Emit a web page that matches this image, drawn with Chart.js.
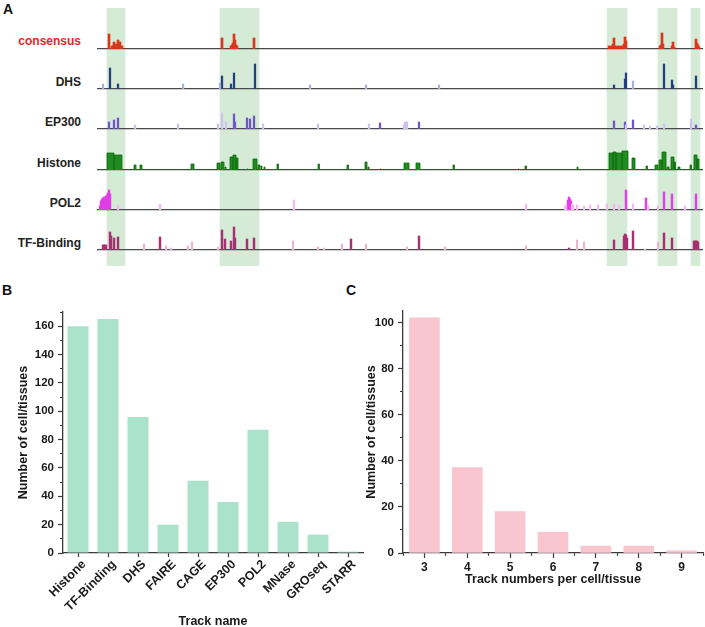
<!DOCTYPE html>
<html>
<head>
<meta charset="utf-8">
<script src="https://cdn.jsdelivr.net/npm/chart.js@4.4.1/dist/chart.umd.min.js"></script>
<style>
  html, body { margin: 0; padding: 0; background: #fff; overflow: hidden; }
  #page { position: relative; width: 705px; height: 627px; overflow: hidden;
          font-family: "Liberation Sans", Arial, sans-serif; }
  #page canvas { position: absolute; }
  .letter { position: absolute; font-weight: bold; font-size: 14px; color: #111; line-height: 14px; }
  .track { position: absolute; right: 624px; font-weight: bold; font-size: 12px; line-height: 14px;
           color: #222; white-space: nowrap; }
</style>
</head>
<body>
<div id="page">
  <div class="letter" style="left:3px;top:2px">A</div>
  <div class="letter" style="left:2px;top:283px">B</div>
  <div class="letter" style="left:346px;top:283px">C</div>

  <div class="track" style="top:34px;color:#e8262a">consensus</div>
  <div class="track" style="top:75px">DHS</div>
  <div class="track" style="top:115px">EP300</div>
  <div class="track" style="top:156px">Histone</div>
  <div class="track" style="top:196px">POL2</div>
  <div class="track" style="top:236px">TF-Binding</div>

  <canvas id="bands" width="606" height="258" style="left:97px;top:8px"></canvas>
  <canvas id="tConsensus" width="606" height="31" style="left:97px;top:19px"></canvas>
  <canvas id="tDHS" width="606" height="31" style="left:97px;top:59px"></canvas>
  <canvas id="tEP300" width="606" height="31" style="left:97px;top:99px"></canvas>
  <canvas id="tHistone" width="606" height="31" style="left:97px;top:140px"></canvas>
  <canvas id="tPOL2" width="606" height="31" style="left:97px;top:180px"></canvas>
  <canvas id="tTF" width="606" height="31" style="left:97px;top:220px"></canvas>

  <canvas id="chartB" width="365" height="335" style="left:0px;top:300px"></canvas>
  <canvas id="chartC" width="365" height="327" style="left:340px;top:300px"></canvas>
</div>
<script>
// ---- panel A: genome window (kb from window start) ----
const windowKb = 606;

const bandStart = [10, 123, 510, 561, 594];
const bandEnd   = [28, 162, 530, 580, 603];

const consensusPos = [12, 15, 16, 17, 18, 19, 20, 21, 22, 23, 24, 25, 125, 134, 135, 136, 137, 138, 139, 140, 157,
  512, 514, 516, 517, 518, 520, 522, 524, 526, 527, 528, 529, 563, 564, 565, 566, 575, 576, 577, 599, 600, 601, 602];
const consensusVal = [15, 3, 3, 7, 3, 5, 4, 9, 5, 7, 3, 3, 11, 3, 4, 6, 15, 9, 4, 3, 11,
  3, 3, 5, 11, 3, 3, 3, 3, 3, 5, 12, 8, 3, 4, 16, 5, 3, 7, 2, 10, 6, 4, 2];

const dhsPos = [13, 21, 125, 134, 137, 158, 517, 528, 529, 567, 575, 576, 599];
const dhsVal = [21, 5, 13, 5, 16, 25, 4, 10, 16, 25, 9, 4, 13];
const dhsFaintPos = [6, 86, 123, 213, 269, 342, 536];
const dhsFaintVal = [5, 5, 6, 4, 4, 4, 8];

const ep300Pos = [12, 17, 21, 137, 138, 150, 153, 157, 283, 322, 517, 528, 536, 599];
const ep300Val = [7, 9, 11, 15, 7, 11, 10, 13, 6, 7, 8, 7, 9, 4];
const ep300FaintPos = [38, 81, 121, 125, 129, 166, 221, 272, 307, 308, 310, 529, 547, 553, 560, 567, 594];
const ep300FaintVal = [4, 5, 5, 16, 7, 5, 5, 5, 4, 7, 7, 4, 4, 3, 3, 5, 10];

const histoneStart = [10, 17, 37, 43, 94, 120, 124, 128, 133, 136, 139, 150, 156, 161, 164, 167, 180, 221, 250,
  268, 271, 283, 307, 319, 356, 421, 428, 480, 512, 516, 519, 525, 535, 549, 558, 562, 565, 570, 574, 577,
  581, 593, 597, 600];
const histoneEnd = [17, 25, 39, 45, 97, 123, 127, 129, 136, 139, 141, 151, 160, 163, 165, 168, 181.5, 222.5, 251.5,
  270, 272, 284, 312, 323, 357.5, 422, 429.5, 481, 516, 519, 525, 531, 538, 550.5, 561, 565, 569, 572, 577, 578.5,
  583, 594.5, 600, 602];
const histoneVal = [17, 15, 5, 5, 6, 7, 8, 3, 13, 15, 12, 1, 11, 5, 4, 3, 6, 6, 5,
  8, 3, 1, 7, 7, 5, 1, 4, 3, 17, 18, 17, 19, 12, 4, 5, 10, 18, 3, 13, 8,
  3, 5, 15, 11];

const pol2Pos = [3, 4, 5, 6, 7, 8, 9, 10, 11, 12, 13, 471, 472, 473, 474, 529, 549, 567, 575, 599];
const pol2Val = [4, 9, 11, 12, 13, 11, 14, 15, 17, 20, 16, 10, 13, 11, 9, 20, 12, 18, 16, 16];
const pol2FaintPos = [21, 63, 197, 429, 468, 469, 475, 476, 480, 487, 493, 501, 510, 517, 522, 536, 551, 561, 588];
const pol2FaintVal = [5, 6, 10, 6, 4, 5, 6, 5, 5, 4, 5, 5, 6, 6, 5, 6, 5, 4, 4];

const tfPos = [6, 7, 8, 9, 13, 14, 17, 21, 63, 125, 128, 134, 137, 138, 150, 157, 254, 322, 472,
  517, 527, 528, 529, 530, 536, 567, 575, 597, 598, 599, 600, 601];
const tfVal = [5, 5, 5, 5, 18, 14, 12, 13, 13, 20, 11, 9, 23, 12, 11, 12, 11, 14, 2,
  10, 14, 16, 15, 12, 19, 17, 12, 9, 9, 9, 9, 8];
const tfFaintPos = [47, 69, 74, 91, 95, 121, 196, 221, 227, 245, 269, 310, 348, 429, 480, 487, 548, 561];
const tfFaintVal = [6, 4, 2, 4, 8, 3, 9, 3, 2, 6, 6, 3, 3, 4, 10, 8, 1, 8];

// ---- panel B ----
const trackNames = ['Histone', 'TF-Binding', 'DHS', 'FAIRE', 'CAGE', 'EP300', 'POL2', 'MNase', 'GROseq', 'STARR'];
const trackCells = [160, 165, 96, 20, 51, 36, 87, 22, 13, 1];

// ---- panel C ----
const tracksPerCell = [3, 4, 5, 6, 7, 8, 9];
const cellsWithN = [102, 37, 18, 9, 3, 3, 1];

Chart.defaults.font.family = '"Liberation Sans", Arial, sans-serif';
Chart.defaults.color = '#1a1a1a';

const axisColor = '#3a3a3a';
const boldFont = size => ({ size: size, weight: 'bold' });

function pts(pos, val) {
    return pos.map((x, i) => ({ x: x, y: val[i] }));
}

function spikes(pos, val, color, thick) {
    return {
        data: pts(pos, val),
        backgroundColor: color,
        barThickness: thick || 1.6,
        grouped: false
    };
}

function trackOptions() {
    return {
        responsive: false,
        animation: false,
        events: [],
        layout: { padding: { bottom: 1 } },
        plugins: { legend: { display: false }, tooltip: { enabled: false } },
        scales: {
            x: {
                type: 'linear', min: 0, max: windowKb, offset: false,
                grid: { display: false, drawTicks: false },
                ticks: { display: false },
                border: { display: true, color: '#4a4a4a', width: 1.3 }
            },
            y: { min: 0, max: 30, display: false }
        }
    };
}

function trackChart(id, datasets) {
    return new Chart(document.getElementById(id), {
        type: 'bar',
        data: { datasets: datasets },
        options: trackOptions()
    });
}

// green highlight bands behind the tracks
new Chart(document.getElementById('bands'), {
    type: 'bar',
    data: {
        labels: ['band'],
        datasets: [{
            data: bandStart.map((s, i) => ({ x: [s, bandEnd[i]], y: 'band' })),
            backgroundColor: '#d5ebd6',
            barPercentage: 1,
            categoryPercentage: 1
        }]
    },
    options: {
        indexAxis: 'y',
        responsive: false,
        animation: false,
        events: [],
        plugins: { legend: { display: false }, tooltip: { enabled: false } },
        scales: {
            x: { type: 'linear', min: 0, max: windowKb, display: false },
            y: { display: false }
        }
    }
});

trackChart('tConsensus', [spikes(consensusPos, consensusVal, '#d9381e', 2)]);
trackChart('tDHS', [
    spikes(dhsFaintPos, dhsFaintVal, '#a9b1dc'),
    spikes(dhsPos, dhsVal, '#243f80')
]);
trackChart('tEP300', [
    spikes(ep300FaintPos, ep300FaintVal, '#cdc2ee'),
    spikes(ep300Pos, ep300Val, '#7055c8')
]);
trackChart('tPOL2', [
    spikes(pol2FaintPos, pol2FaintVal, '#f3b8f1'),
    spikes(pol2Pos, pol2Val, '#e03ee6', 1.8)
]);
trackChart('tTF', [
    spikes(tfFaintPos, tfFaintVal, '#e9b6d1'),
    spikes(tfPos, tfVal, '#a63172', 1.8)
]);

// histone peaks are broad blocks: stepped area line
const histoneSteps = [{ x: 0, y: 0 }];
histoneStart.forEach((s, i) => {
    histoneSteps.push({ x: s, y: histoneVal[i] });
    histoneSteps.push({ x: histoneEnd[i], y: 0 });
});
histoneSteps.push({ x: windowKb, y: 0 });

new Chart(document.getElementById('tHistone'), {
    type: 'line',
    data: {
        datasets: [{
            data: histoneSteps,
            stepped: true,
            fill: 'origin',
            backgroundColor: '#1f8b20',
            borderColor: '#0f6a10',
            borderWidth: 0.8,
            pointRadius: 0
        }]
    },
    options: trackOptions()
});

// minor ticks drawn shorter using a dash on the tick line
function minorDashLeft(ctx) {
    return ctx.tick && ctx.tick.value % 20 !== 0 ? [0, 2, 10] : [];
}

// ---- B ----
new Chart(document.getElementById('chartB'), {
    type: 'bar',
    data: {
        labels: trackNames,
        datasets: [{
            data: trackCells,
            backgroundColor: '#aae2cb',
            barPercentage: 0.7,
            categoryPercentage: 1
        }]
    },
    options: {
        responsive: false,
        animation: false,
        events: [],
        layout: { padding: { left: 12, top: 12, right: 2, bottom: 2 } },
        plugins: { legend: { display: false }, tooltip: { enabled: false } },
        scales: {
            x: {
                grid: { display: true, drawOnChartArea: false, offset: false, tickLength: 4, tickColor: axisColor, tickWidth: 1.2 },
                border: { color: axisColor, width: 1.3 },
                ticks: { font: boldFont(12.5), maxRotation: 45, minRotation: 45, autoSkip: false, padding: 0, labelOffset: 6 },
                title: { display: true, text: 'Track name', font: boldFont(12.5), padding: { top: 0, bottom: 4 } },
                afterFit: s => { s.height = 80; }
            },
            y: {
                min: 0, max: 170,
                grid: { display: true, drawOnChartArea: false, tickLength: 5, tickColor: axisColor, tickWidth: 1.2,
                        tickBorderDash: minorDashLeft },
                border: { color: axisColor, width: 1.3 },
                ticks: { stepSize: 10, autoSkip: false, font: boldFont(11.5), padding: 4,
                         callback: v => (v % 20 === 0 ? v : '') },
                title: { display: true, text: 'Number of cell/tissues', font: boldFont(12.5), padding: { top: 4, bottom: 0 } },
                afterFit: s => { s.width = 51; }
            }
        }
    }
});

// ---- C ----
new Chart(document.getElementById('chartC'), {
    type: 'bar',
    data: {
        datasets: [{
            data: pts(tracksPerCell, cellsWithN),
            backgroundColor: '#f9c6cf',
            barThickness: 30
        }]
    },
    options: {
        responsive: false,
        animation: false,
        events: [],
        layout: { padding: { left: 20, top: 9, right: 0, bottom: 36 } },
        plugins: { legend: { display: false }, tooltip: { enabled: false } },
        scales: {
            x: {
                type: 'linear', min: 2.5, max: 9.5, offset: false,
                grid: { display: true, drawOnChartArea: false, offset: false, tickLength: 5, tickColor: axisColor, tickWidth: 1.2,
                        tickBorderDash: ctx => (ctx.tick && !Number.isInteger(ctx.tick.value) ? [2.5, 10] : []) },
                border: { color: axisColor, width: 1.3 },
                ticks: { stepSize: 0.5, autoSkip: false, font: boldFont(12), padding: 2,
                         callback: v => (Number.isInteger(v) ? v : '') },
                title: { display: true, text: 'Track numbers per cell/tissue', font: boldFont(12.5), padding: { top: 0, bottom: 4 } },
                afterFit: s => { s.height = 38; }
            },
            y: {
                min: 0, max: 105,
                grid: { display: true, drawOnChartArea: false, tickLength: 5, tickColor: axisColor, tickWidth: 1.2,
                        tickBorderDash: minorDashLeft },
                border: { color: axisColor, width: 1.3 },
                ticks: { stepSize: 10, autoSkip: false, includeBounds: false, font: boldFont(11.5), padding: 4,
                         callback: v => (v % 20 === 0 ? v : '') },
                title: { display: true, text: 'Number of cell/tissues', font: boldFont(12.5), padding: { top: 4, bottom: 0 } },
                afterFit: s => { s.width = 43; }
            }
        }
    }
});
</script>
</body>
</html>
